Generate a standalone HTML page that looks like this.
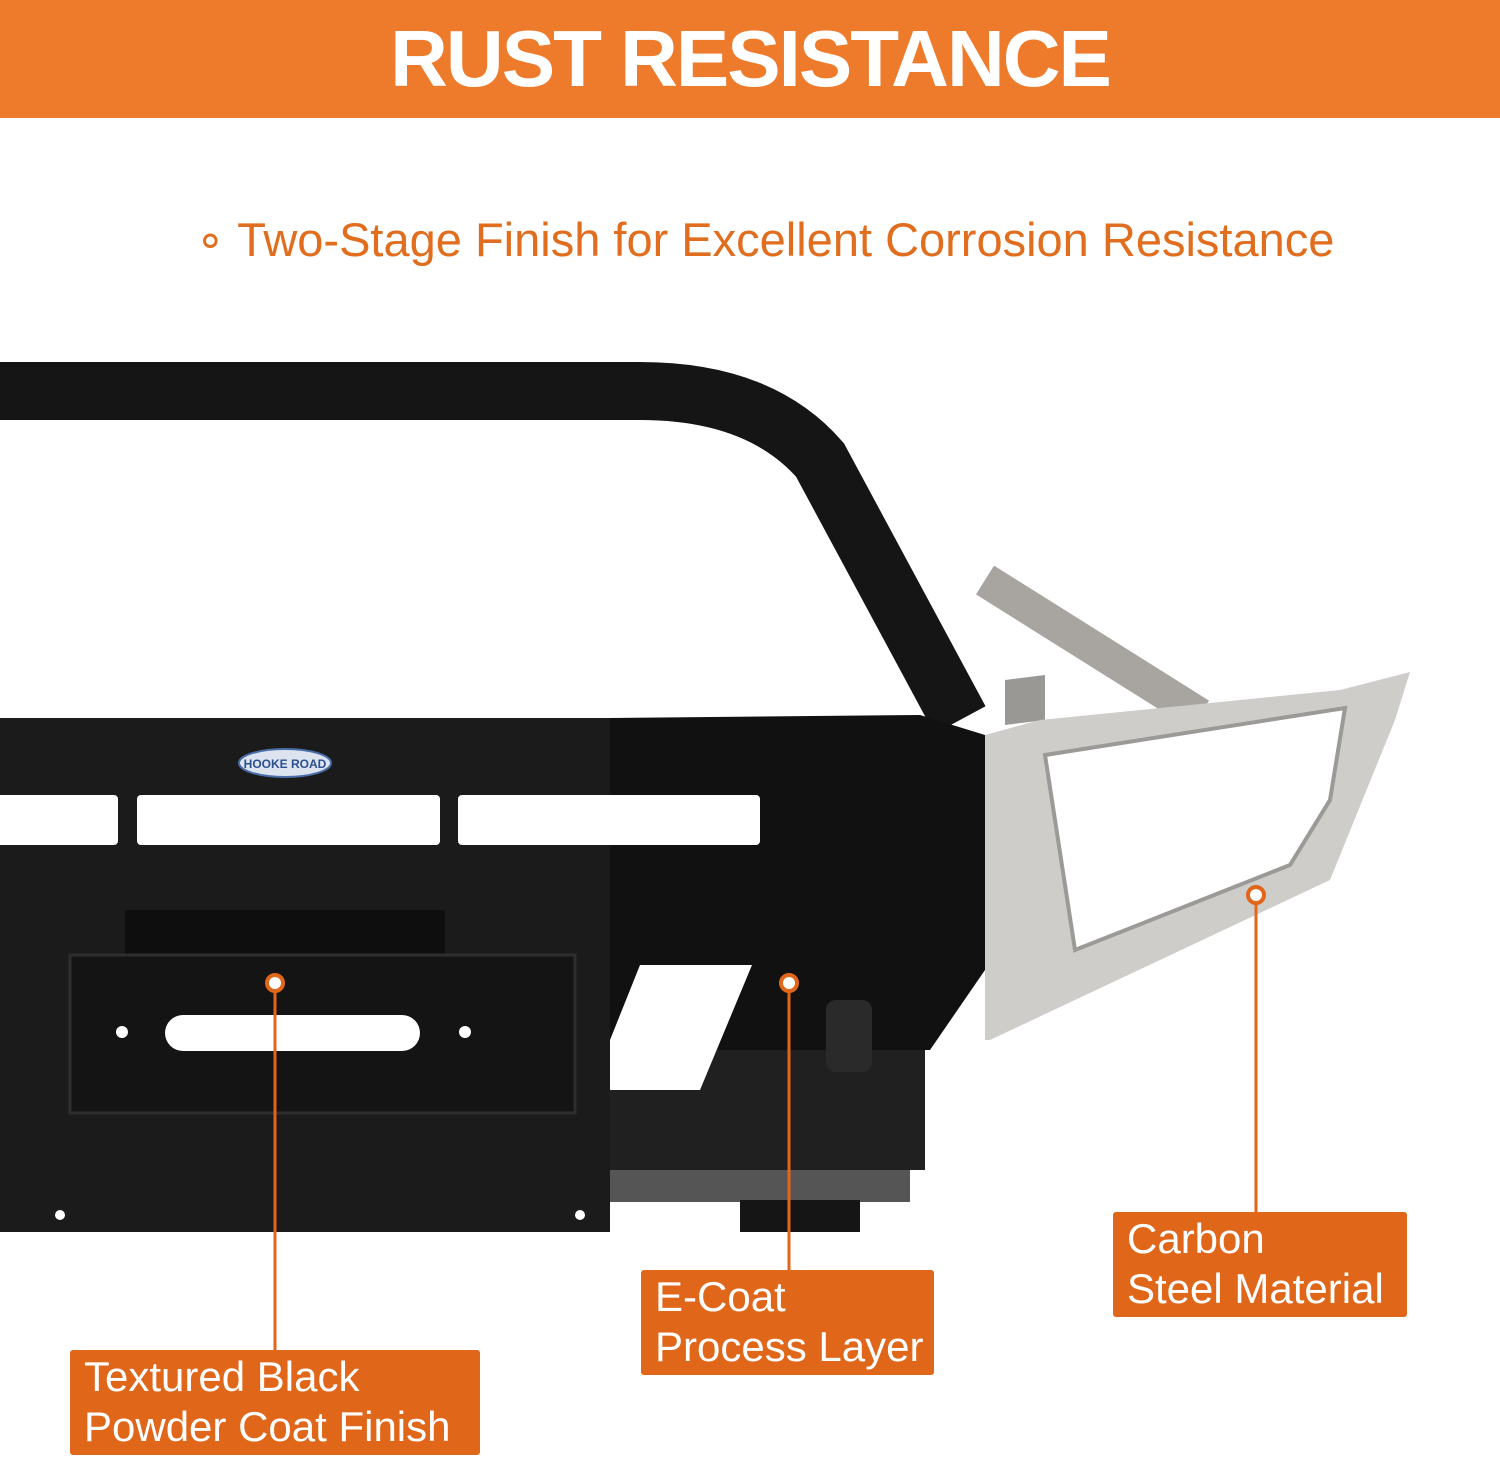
<!DOCTYPE html>
<html><head><meta charset="utf-8"><style>
html,body{margin:0;padding:0;background:#fff}
body{width:1500px;height:1460px;position:relative;overflow:hidden;font-family:"Liberation Sans",sans-serif}
.hdr{position:absolute;left:0;top:0;width:1500px;height:118px;background:#ee7b2b;color:#fff;font-weight:bold;font-size:80px;text-align:center;line-height:118px;letter-spacing:-2px}
.sub{position:absolute;left:0;top:212px;width:1530px;text-align:center;color:#e06e1e;font-size:47px}
.lab{position:absolute;background:#e0661a;color:#fff;font-size:42px;line-height:50px;padding:2px 0 0 14px;box-sizing:border-box;border-radius:3px}
svg{position:absolute;left:0;top:0}
</style></head><body>
<div class="hdr">RUST RESISTANCE</div>
<div class="sub">∘ Two-Stage Finish for Excellent Corrosion Resistance</div>
<svg width="1500" height="1460" viewBox="0 0 1500 1460">
<path d="M0 391 L640 391 Q760 391 820 460 L960 720" stroke="#151515" stroke-width="58" fill="none"/>
<path d="M985 580 L1200 715" stroke="#a8a5a0" stroke-width="34" fill="none"/>
<path d="M1005 680 L1045 675 L1045 720 L1005 725Z" fill="#9a9894"/>
<rect x="0" y="718" width="610" height="514" fill="#1b1b1b"/>
<path d="M610 718 L920 715 L985 735 L985 970 L930 1050 L610 1050Z" fill="#111"/>
<rect x="610" y="1050" width="315" height="120" fill="#202020"/>
<rect x="610" y="1170" width="300" height="32" fill="#555"/>
<rect x="740" y="1200" width="120" height="32" fill="#151515"/>
<path d="M640 965 L752 965 L700 1090 L610 1090 L610 1040Z" fill="#fff"/>
<rect x="826" y="1000" width="46" height="72" fill="#2a2a2a" rx="10"/>
<path d="M985 735 L1040 720 L1340 690 L1410 672 L1395 720 L1330 880 L990 1040 L985 1040Z" fill="#cfcdca"/>
<path d="M1045 755 L1345 708 L1330 800 L1290 865 L1075 950Z" fill="#fff" stroke="#9c9a96" stroke-width="4"/>
<rect x="-10" y="795" width="128" height="50" rx="4" fill="#fff"/>
<rect x="137" y="795" width="303" height="50" rx="4" fill="#fff"/>
<rect x="458" y="795" width="302" height="50" rx="4" fill="#fff"/>
<ellipse cx="285" cy="763" rx="46" ry="14" fill="#dde4f0" stroke="#4b6ea8" stroke-width="2"/>
<text x="285" y="768" font-size="12" font-weight="bold" text-anchor="middle" fill="#2b4f8f" font-family="Liberation Sans,sans-serif">HOOKE ROAD</text>
<rect x="125" y="910" width="320" height="45" fill="#0e0e0e"/>
<rect x="70" y="955" width="505" height="158" fill="#141414" stroke="#2e2e2e" stroke-width="3"/>
<rect x="165" y="1015" width="255" height="36" rx="18" fill="#fff"/>
<circle cx="122" cy="1032" r="6" fill="#fff"/><circle cx="465" cy="1032" r="6" fill="#fff"/>
<circle cx="60" cy="1215" r="5" fill="#fff"/><circle cx="580" cy="1215" r="5" fill="#fff"/>
<g stroke="#e0661a" stroke-width="3" fill="#fff">
<line x1="275" y1="990" x2="275" y2="1350"/>
<line x1="789" y1="990" x2="789" y2="1270"/>
<line x1="1256" y1="902" x2="1256" y2="1212"/>
<circle cx="275" cy="983" r="8" stroke-width="4"/>
<circle cx="789" cy="983" r="8" stroke-width="4"/>
<circle cx="1256" cy="895" r="8" stroke-width="4"/>
</g>
</svg>
<div class="lab" style="left:70px;top:1350px;width:410px;height:105px">Textured Black<br>Powder Coat Finish</div>
<div class="lab" style="left:641px;top:1270px;width:293px;height:105px">E-Coat<br>Process Layer</div>
<div class="lab" style="left:1113px;top:1212px;width:294px;height:105px">Carbon<br>Steel Material</div>
</body></html>
